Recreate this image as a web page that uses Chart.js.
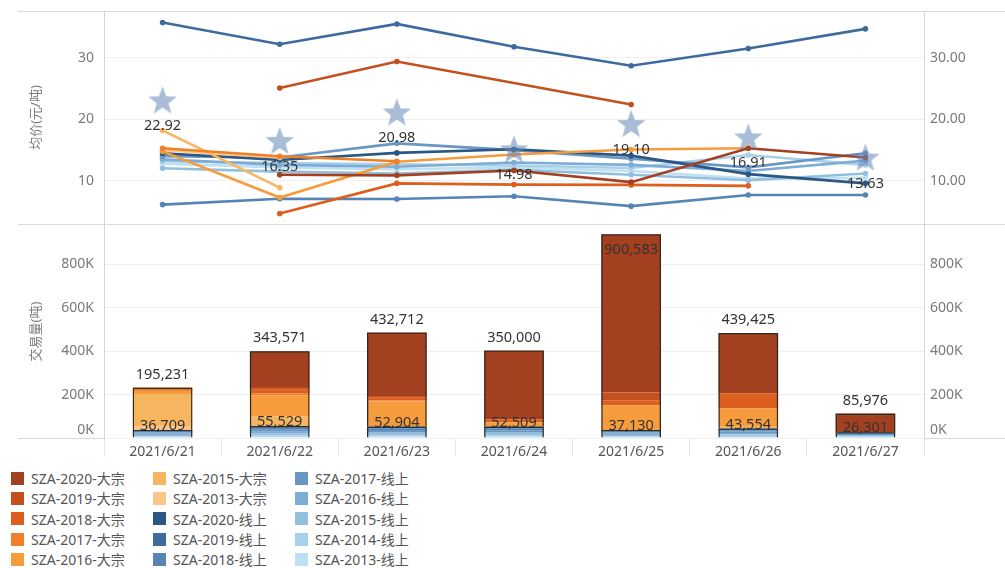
<!DOCTYPE html>
<html>
<head>
<meta charset="utf-8">
<script src="https://cdn.jsdelivr.net/npm/chart.js@4.4.0/dist/chart.umd.min.js"></script>
<style>
  body { margin: 0; background: #fff; font-family: "Noto Sans", "Noto Sans CJK SC", sans-serif; }
  #wrap { position: relative; width: 1005px; height: 568px; overflow: hidden; }
  .hl { position: absolute; left: 18px; right: 0; height: 1px; background: #dadada; }
  #topChart { position: absolute; left: 0; top: 0; }
  #botChart { position: absolute; left: 0; top: 225px; }
  #legend {
    position: absolute; left: 11px; top: 468px;
    display: grid; grid-auto-flow: column;
    grid-template-columns: 142px 142px 142px;
    grid-template-rows: repeat(5, 20.3px);
  }
  .item { display: flex; align-items: center; font-size: 14px; color: #555; white-space: nowrap; }
  .sw { width: 13px; height: 13px; margin-right: 7px; flex: none; }
</style>
</head>
<body>
<div id="wrap">
  <div class="hl" style="top:11px"></div>
  <div class="hl" style="top:224px"></div>
  <div class="hl" style="top:438px"></div>
  <canvas id="topChart" width="1005" height="225"></canvas>
  <canvas id="botChart" width="1005" height="240"></canvas>
  <div id="legend"></div>
</div>
<script>
// --- categories & ticks ---
const dates = ['2021/6/21', '2021/6/22', '2021/6/23', '2021/6/24', '2021/6/25', '2021/6/26', '2021/6/27'];
const priceTicks = [10, 20, 30];
const volumeTicks = [0, 200000, 400000, 600000, 800000];

// --- weighted average price (stars) ---
const avgPrice = [22.92, 16.35, 20.98, 14.98, 19.10, 16.91, 13.63];

// --- price per series (元/吨) ---
const bulk2020Price = [null, 11.0, 10.9, 11.7, 9.8, 15.3, 13.8];
const bulk2019Price = [null, 25.1, 29.4, null, 22.4, null, null];
const bulk2018Price = [null, 4.7, 9.6, 9.4, 9.35, 9.2, null];
const bulk2017Price = [15.3, 14.0, 13.2, null, null, null, null];
const bulk2016Price = [14.8, 7.3, 13.1, 14.3, 15.1, 15.3, null];
const bulk2015Price = [18.2, 8.9, null, null, null, null, null];
const bulk2013Price = [15.0, 13.8, null, null, null, null, null];
const online2020Price = [14.5, 13.4, 14.55, 15.15, 14.1, 11.1, 9.6];
const online2019Price = [35.74, 32.2, 35.5, 31.8, 28.7, 31.5, 34.7];
const online2018Price = [6.15, 7.1, 7.07, 7.5, 5.9, 7.7, 7.7];
const online2017Price = [14.0, 13.8, 16.1, 15.0, 13.6, 12.2, 14.5];
const online2016Price = [13.5, 12.6, 12.3, 13.0, 12.6, 11.6, 13.3];
const online2015Price = [12.06, 11.5, 11.2, 11.8, 11.0, 10.1, 11.2];
const online2014Price = [13.2, 12.9, 12.7, 12.5, 12.1, 14.2, 12.6];
const online2013Price = [12.8, 12.2, 11.9, 12.2, 11.6, 10.4, 10.5];

// --- volume per series (吨) ---
const bulk2020Vol = [0, 164571, 292712, 316000, 728583, 278425, 85976];
const bulk2019Vol = [0, 13000, 8000, 0, 35000, 0, 0];
const bulk2018Vol = [0, 16000, 12000, 14000, 25000, 69000, 0];
const bulk2017Vol = [16000, 10000, 5000, 0, 0, 0, 0];
const bulk2016Vol = [14000, 96000, 115000, 20000, 112000, 80000, 0];
const bulk2015Vol = [150231, 44000, 0, 0, 0, 12000, 0];
const bulk2013Vol = [15000, 0, 0, 0, 0, 0, 0];
const online2020Vol = [5009, 7529, 7504, 7509, 5130, 6054, 3301];
const online2019Vol = [1700, 2500, 2400, 2500, 2000, 2000, 1500];
const online2018Vol = [4500, 7000, 6500, 6500, 4500, 5000, 3000];
const online2017Vol = [6500, 10000, 9500, 9000, 6500, 7500, 4500];
const online2016Vol = [5500, 8000, 7500, 7500, 5500, 6500, 4000];
const online2015Vol = [5000, 7500, 7000, 7000, 5000, 6000, 3500];
const online2014Vol = [4500, 7000, 6500, 6500, 4500, 5500, 3500];
const online2013Vol = [4000, 6000, 6000, 6000, 4000, 5000, 3000];

// legend order (top of stack first)
const series = [
  { name: 'SZA-2020-大宗', color: '#a3401f', price: bulk2020Price, vol: bulk2020Vol, bulk: true },
  { name: 'SZA-2019-大宗', color: '#c4501e', price: bulk2019Price, vol: bulk2019Vol, bulk: true },
  { name: 'SZA-2018-大宗', color: '#dd5e1f', price: bulk2018Price, vol: bulk2018Vol, bulk: true },
  { name: 'SZA-2017-大宗', color: '#f07f27', price: bulk2017Price, vol: bulk2017Vol, bulk: true },
  { name: 'SZA-2016-大宗', color: '#f69c3c', price: bulk2016Price, vol: bulk2016Vol, bulk: true },
  { name: 'SZA-2015-大宗', color: '#f8b55f', price: bulk2015Price, vol: bulk2015Vol, bulk: true },
  { name: 'SZA-2013-大宗', color: '#fcc68a', price: bulk2013Price, vol: bulk2013Vol, bulk: true },
  { name: 'SZA-2020-线上', color: '#2b5783', price: online2020Price, vol: online2020Vol, bulk: false },
  { name: 'SZA-2019-线上', color: '#3e6b9e', price: online2019Price, vol: online2019Vol, bulk: false },
  { name: 'SZA-2018-线上', color: '#5584b5', price: online2018Price, vol: online2018Vol, bulk: false },
  { name: 'SZA-2017-线上', color: '#6897c4', price: online2017Price, vol: online2017Vol, bulk: false },
  { name: 'SZA-2016-线上', color: '#7dacd5', price: online2016Price, vol: online2016Vol, bulk: false },
  { name: 'SZA-2015-线上', color: '#93bfdf', price: online2015Price, vol: online2015Vol, bulk: false },
  { name: 'SZA-2014-线上', color: '#a8d0ea', price: online2014Price, vol: online2014Vol, bulk: false },
  { name: 'SZA-2013-线上', color: '#bde0f3', price: online2013Price, vol: online2013Vol, bulk: false }
];

// group totals (derived from the series arrays)
const sumOf = group => dates.map((d, i) => group.reduce((s, ser) => s + ser.vol[i], 0));
const bulkTotal = sumOf(series.filter(s => s.bulk));
const onlineTotal = sumOf(series.filter(s => !s.bulk));

const FONT = '"Noto Sans", "Noto Sans CJK SC", sans-serif';
Chart.defaults.font.family = FONT;
Chart.defaults.font.size = 14;

function makeStar(r, fill) {
  const c = document.createElement('canvas');
  const s = Math.ceil(r * 2) + 2;
  c.width = c.height = s;
  const g = c.getContext('2d');
  g.beginPath();
  for (let i = 0; i < 10; i++) {
    const rad = i % 2 ? r * 0.42 : r;
    const a = -Math.PI / 2 + i * Math.PI / 5;
    g.lineTo(s / 2 + rad * Math.cos(a), s / 2 + rad * Math.sin(a));
  }
  g.closePath();
  g.fillStyle = fill;
  g.fill();
  return c;
}

// axes keep a fixed box so both panels line up
const fixWidth = w => sc => { sc.width = w; sc.paddingTop = 0; sc.paddingBottom = 0; };

// --- legend ---
const legend = document.getElementById('legend');
series.forEach(s => {
  const el = document.createElement('div');
  el.className = 'item';
  el.innerHTML = `<span class="sw" style="background:${s.color}"></span>${s.name}`;
  legend.appendChild(el);
});

// --- top: price lines ---
const starLabels = {
  id: 'starLabels',
  afterDatasetsDraw(chart) {
    const meta = chart.getDatasetMeta(0);
    const ctx = chart.ctx;
    ctx.save();
    ctx.font = `14.5px ${FONT}`;
    ctx.fillStyle = '#333';
    ctx.textAlign = 'center';
    ctx.textBaseline = 'middle';
    meta.data.forEach((pt, i) => ctx.fillText(avgPrice[i].toFixed(2), pt.x, pt.y + 25));
    ctx.restore();
  }
};

const lineSets = series.map(s => ({
  type: 'line',
  label: s.name,
  data: s.price,
  borderColor: s.color,
  backgroundColor: s.color,
  borderWidth: 2.6,
  pointRadius: 2.8,
  pointBorderWidth: 0,
  pointBackgroundColor: s.color,
  spanGaps: true,
  tension: 0,
  order: 1
}));

new Chart(document.getElementById('topChart'), {
  type: 'line',
  data: {
    labels: dates,
    datasets: [{
      type: 'scatter',
      label: 'avg',
      data: avgPrice,
      pointStyle: makeStar(15, 'rgba(100,135,182,0.55)'),
      pointRadius: 15,
      order: 0
    }, ...lineSets]
  },
  options: {
    responsive: false,
    animation: false,
    devicePixelRatio: 1,
    layout: { autoPadding: false, padding: { top: 11, bottom: 1, left: 0, right: 0 } },
    plugins: { legend: { display: false }, tooltip: { enabled: false } },
    scales: {
      x: { type: 'category', display: false, offset: true },
      y: {
        position: 'left', min: 3, max: 37.6,
        afterBuildTicks: sc => { sc.ticks = priceTicks.map(v => ({ value: v })); },
        afterFit: fixWidth(104),
        grid: { color: '#efefef', drawTicks: false },
        border: { color: '#d6d6d6' },
        ticks: { color: '#7a7a7a', padding: 10 },
        title: { display: true, text: '均价(元/吨)', color: '#7a7a7a', font: { size: 13 }, padding: { top: 28, bottom: 0 } }
      },
      y1: {
        position: 'right', min: 3, max: 37.6,
        afterBuildTicks: sc => { sc.ticks = priceTicks.map(v => ({ value: v })); },
        afterFit: fixWidth(81),
        grid: { drawOnChartArea: false, drawTicks: false },
        border: { color: '#d6d6d6' },
        ticks: { color: '#7a7a7a', padding: 6, callback: v => v.toFixed(2) }
      }
    }
  },
  plugins: [starLabels]
});

// --- bottom: stacked volume bars ---
const barLabels = {
  id: 'barLabels',
  afterDatasetsDraw(chart) {
    const n = chart.data.datasets.length;
    const onMeta = chart.getDatasetMeta(n - 2);
    const bulkMeta = chart.getDatasetMeta(n - 1);
    const ctx = chart.ctx;
    ctx.save();
    ctx.font = `14.5px ${FONT}`;
    ctx.fillStyle = '#333';
    ctx.textAlign = 'center';
    ctx.textBaseline = 'middle';
    bulkMeta.data.forEach((bar, i) => {
      const y = bar.y - 22 < chart.chartArea.top ? bar.y + 16 : bar.y - 13;
      ctx.fillText(bulkTotal[i].toLocaleString('en-US'), bar.x, y);
    });
    onMeta.data.forEach((bar, i) => {
      ctx.fillText(onlineTotal[i].toLocaleString('en-US'), bar.x, bar.y - 4);
    });
    ctx.restore();
  }
};

// stack from the bottom: 线上 2013 → 2020, then 大宗 2013 → 2020
const stackOrder = [...series.filter(s => !s.bulk).reverse(), ...series.filter(s => s.bulk).reverse()];
const barSets = stackOrder.map(s => ({
  label: s.name,
  data: s.vol,
  backgroundColor: s.color,
  borderWidth: 0,
  stack: 'vol',
  order: 1
}));

const volTick = v => v === 0 ? ['0K', ''] : (v / 1000) + 'K';

new Chart(document.getElementById('botChart'), {
  type: 'bar',
  data: {
    labels: dates,
    datasets: [...barSets, {
      label: 'online-box',
      data: dates.map((d, i) => [0, onlineTotal[i]]),
      backgroundColor: 'rgba(0,0,0,0)',
      borderColor: '#2a2a2a',
      borderWidth: 1.3,
      grouped: false,
      stack: 'box1',
      order: 0
    }, {
      label: 'bulk-box',
      data: dates.map((d, i) => [onlineTotal[i], onlineTotal[i] + bulkTotal[i]]),
      backgroundColor: 'rgba(0,0,0,0)',
      borderColor: '#2a2a2a',
      borderWidth: 1.3,
      grouped: false,
      stack: 'box2',
      order: 0
    }]
  },
  options: {
    responsive: false,
    animation: false,
    devicePixelRatio: 1,
    layout: { autoPadding: false, padding: 0 },
    datasets: { bar: { categoryPercentage: 0.51, barPercentage: 1 } },
    plugins: { legend: { display: false }, tooltip: { enabled: false } },
    scales: {
      x: {
        stacked: true,
        afterFit: sc => { sc.height = 27; sc.paddingLeft = 0; sc.paddingRight = 0; },
        grid: { offset: true, drawOnChartArea: false, drawTicks: true, tickLength: 18, color: '#e6e6e6' },
        border: { display: false },
        ticks: { color: '#555', padding: -12, maxRotation: 0 }
      },
      y: {
        stacked: true, position: 'left', min: 0, max: 980000,
        afterBuildTicks: sc => { sc.ticks = volumeTicks.map(v => ({ value: v })); },
        afterFit: fixWidth(104),
        grid: { color: '#efefef', drawTicks: false },
        border: { color: '#d6d6d6' },
        ticks: { color: '#7a7a7a', padding: 10, callback: volTick },
        title: { display: true, text: '交易量(吨)', color: '#7a7a7a', font: { size: 13 }, padding: { top: 28, bottom: 0 } }
      },
      y1: {
        position: 'right', min: 0, max: 980000,
        afterBuildTicks: sc => { sc.ticks = volumeTicks.map(v => ({ value: v })); },
        afterFit: fixWidth(81),
        grid: { drawOnChartArea: false, drawTicks: false },
        border: { color: '#d6d6d6' },
        ticks: { color: '#7a7a7a', padding: 6, callback: volTick }
      }
    }
  },
  plugins: [barLabels]
});
</script>
</body>
</html>
